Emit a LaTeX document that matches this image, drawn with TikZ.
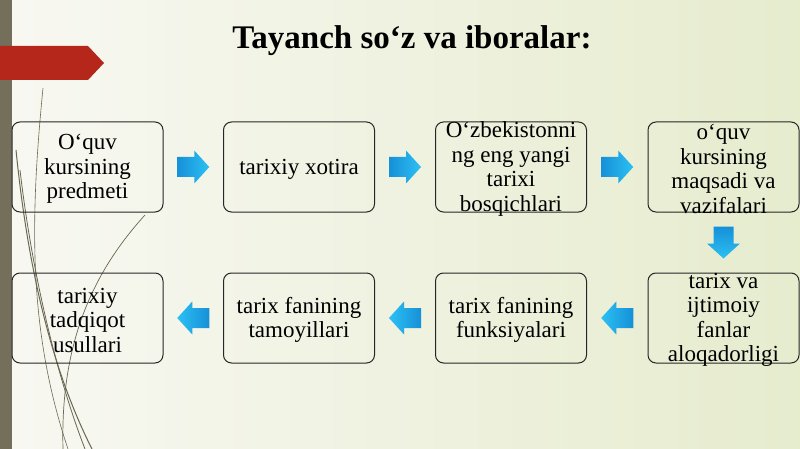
\documentclass[tikz,border=0pt]{standalone}
\usepackage{fontspec}
\setmainfont{Liberation Serif}
\usetikzlibrary{calc}
\definecolor{bgleft}{HTML}{F8F8F2}
\definecolor{bgright}{HTML}{E6ECCE}
\definecolor{barcol}{HTML}{736F5B}
\definecolor{redcol}{HTML}{B5271A}
\definecolor{curvecol}{HTML}{6A6852}
\definecolor{arrdark}{HTML}{1690D8}
\definecolor{arrlight}{HTML}{2CC0F3}
\tikzset{
  kbox/.style={draw=black!85, line width=1pt, rounded corners=8pt,
    minimum width=151pt, minimum height=90pt, inner sep=0pt, align=center,
    font=\fontsize{23}{24.5}\selectfont},
  ktext/.style={align=center, inner sep=0pt, yshift=-2pt,
    font=\fontsize{23}{24.5}\selectfont},
  blockarrow/.pic={\path[pic actions] (-16,-10) -- (1,-10) -- (1,-16.5) -- (16,0)
      -- (1,16.5) -- (1,10) -- (-16,10) -- cycle;},
  rshade/.style={left color=arrdark, right color=arrlight},
  lshade/.style={left color=arrlight, right color=arrdark},
  dshade/.style={top color=arrdark, bottom color=arrlight},
  curve/.style={draw=curvecol},
}
\begin{document}
\begin{tikzpicture}[x=1pt,y=-1pt]
\useasboundingbox (0,0) rectangle (800,449);
% background
\shade[left color=bgleft, right color=bgright] (0,0) rectangle (800,449);
\fill[barcol] (0,0) rectangle (12,449);
% decorative curves
\draw[curve, line width=0.6pt] (43,88) .. controls (30,220) and (28,330) .. (68,449);
\draw[curve, line width=1pt] (16,150) .. controls (28,270) and (52,370) .. (92,449);
\draw[curve, line width=0.8pt] (20,170) .. controls (34,290) and (62,390) .. (85,449);
\draw[curve, line width=0.7pt] (145,215) .. controls (95,270) and (60,340) .. (63,449);
% red banner
\fill[redcol] (0,46) -- (88,46) -- (104,63) -- (88,80) -- (0,80) -- cycle;
% title
\node[font=\fontsize{33}{37}\selectfont\bfseries] (title) at (412,41) {Tayanch so‘z va iboralar:};
% boxes
\node[kbox] (a1) at (87.5,167) {};
\node[kbox] (a2) at (299,167) {};
\node[kbox] (a3) at (511,167) {};
\node[kbox] (a4) at (723.5,167) {};
\node[kbox] (b4) at (723.5,318) {};
\node[kbox] (b3) at (511,318) {};
\node[kbox] (b2) at (299,318) {};
\node[kbox] (b1) at (87.5,318) {};
% box texts
\node[ktext] (ta1) at (a1.center) {O‘quv\\kursining\\predmeti};
\node[ktext] (ta2) at (a2.center) {tarixiy xotira};
\node[ktext] (ta3) at (a3.center) {O‘zbekistonni\\ng eng yangi\\tarixi\\bosqichlari};
\node[ktext] (ta4) at (a4.center) {o‘quv\\kursining\\maqsadi va\\vazifalari};
\node[ktext] (tb4) at (b4.center) {tarix va\\ijtimoiy\\fanlar\\aloqadorligi};
\node[ktext] (tb3) at (b3.center) {tarix fanining\\funksiyalari};
\node[ktext] (tb2) at (b2.center) {tarix fanining\\tamoyillari};
\node[ktext] (tb1) at (b1.center) {tarixiy\\tadqiqot\\usullari};
% block arrows
\coordinate (m12) at ($(a1.east)!0.5!(a2.west)$);
\coordinate (m23) at ($(a2.east)!0.5!(a3.west)$);
\coordinate (m34) at ($(a3.east)!0.5!(a4.west)$);
\coordinate (m44) at ($(a4.south)!0.5!(b4.north)$);
\coordinate (n43) at ($(b4.west)!0.5!(b3.east)$);
\coordinate (n32) at ($(b3.west)!0.5!(b2.east)$);
\coordinate (n21) at ($(b2.west)!0.5!(b1.east)$);
\pic[rshade] at (m12) {blockarrow};
\pic[rshade] at (m23) {blockarrow};
\pic[rshade] at (m34) {blockarrow};
\pic[dshade, rotate=-90] at (m44) {blockarrow};
\pic[lshade, rotate=180] at (n43) {blockarrow};
\pic[lshade, rotate=180] at (n32) {blockarrow};
\pic[lshade, rotate=180] at (n21) {blockarrow};
\end{tikzpicture}
\end{document}
